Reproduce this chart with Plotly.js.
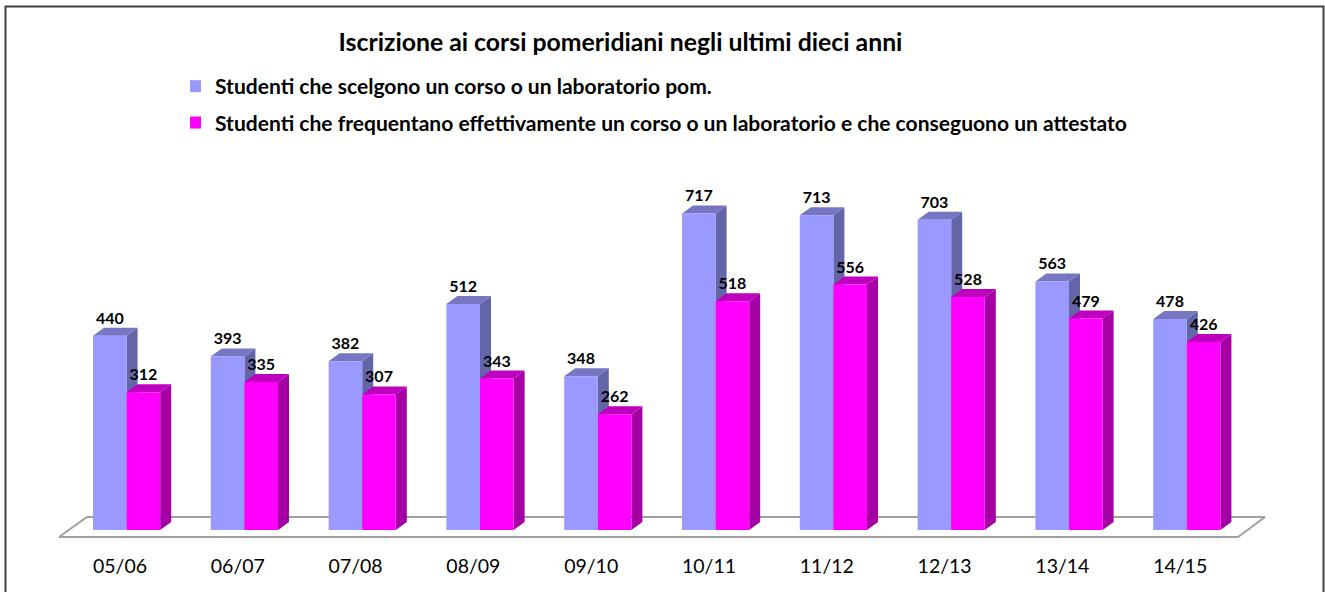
<!DOCTYPE html>
<html>
<head>
<meta charset="utf-8">
<script src="https://cdn.plot.ly/plotly-3.0.1.min.js"></script>
<style>html,body{margin:0;padding:0;background:#fff;overflow:hidden}#chart{width:1325px;height:592px}</style>
</head>
<body>
<div id="chart"></div>
<script>
const titleText = "Iscrizione ai corsi pomeridiani negli ultimi dieci anni";
const categories = ["05/06","06/07","07/08","08/09","09/10","10/11","11/12","12/13","13/14","14/15"];
const seriesAName = "Studenti che scelgono un corso o un laboratorio pom.";
const seriesBName = "Studenti che frequentano effettivamente un corso o un laboratorio e che conseguono un attestato";
const seriesA = [440,393,382,512,348,717,713,703,563,478];
const seriesB = [312,335,307,343,262,518,556,528,479,426];

const W = 1325, H = 592, plotH = 545;
const pxPerCat = 117.8, firstCatPx = 120;
const pxPerUnit = 0.4415, zeroPx = 530;
const xRange = [-firstCatPx/pxPerCat, (W-firstCatPx)/pxPerCat];
const yRange = [(zeroPx-plotH)/pxPerUnit, zeroPx/pxPerUnit];
const xOfPx = p => (p-firstCatPx)/pxPerCat;
const yOfPx = p => (zeroPx-p)/pxPerUnit;

const barW = 33.6/pxPerCat;
const offA = -27/pxPerCat;
const offB = offA + barW;
const dx = 11/pxPerCat, dy = 8/pxPerUnit;
const idx = categories.map((_,i)=>i);

function faces(vals, off, kind){
  const xs=[], ys=[];
  vals.forEach((v,i)=>{
    const l=i+off, r=l+barW;
    if(kind==="top"){
      xs.push(l,l+dx,r+dx,r,l,null); ys.push(v,v+dy,v+dy,v,v,null);
    } else {
      xs.push(r,r+dx,r+dx,r,r,null); ys.push(0,dy,v+dy,v,0,null);
    }
  });
  return {x:xs,y:ys};
}
function poly(f,color){
  return {type:"scatter",mode:"lines",x:f.x,y:f.y,fill:"toself",fillcolor:color,
    line:{width:0,color:color},hoverinfo:"skip",showlegend:false,xaxis:"x",yaxis:"y"};
}
const floor = {type:"scatter",mode:"lines",
  x:[xOfPx(59),xOfPx(87),xOfPx(1265),xOfPx(1238),xOfPx(59)],
  y:[yOfPx(537),yOfPx(517),yOfPx(517),yOfPx(537),yOfPx(537)],
  fill:"toself",fillcolor:"#ffffff",line:{color:"#a0a0a0",width:2},
  hoverinfo:"skip",showlegend:false,xaxis:"x",yaxis:"y"};

function bar(name,vals,off,color,group){
  return {type:"bar",name:name,x:idx,y:vals,width:barW,offset:off,
    marker:{color:color,line:{width:0}},legendgroup:group,xaxis:"x2",yaxis:"y2",
    hovertemplate:"%{y}<extra></extra>"};
}
function labels(vals,off){
  return {type:"scatter",mode:"text",x:idx.map(i=>i+off+barW/2),y:vals.map(v=>v+dy),
    text:vals.map(String),textposition:"top center",
    textfont:{family:"Lato, sans-serif",size:16,color:"#000",weight:700},
    hoverinfo:"skip",showlegend:false,xaxis:"x2",yaxis:"y2",cliponaxis:false};
}
const data = [
  floor,
  poly(faces(seriesA,offA,"side"),"#6464A8"),
  poly(faces(seriesA,offA,"top"),"#7676C2"),
  poly(faces(seriesB,offB,"side"),"#A400A4"),
  poly(faces(seriesB,offB,"top"),"#BE00BE"),
  bar(seriesAName,seriesA,offA,"#9999FF","a"),
  bar(seriesBName,seriesB,offB,"#FF00FF","b"),
  labels(seriesA,offA),
  labels(seriesB,offB)
];
const layout = {
  width:W,height:H,autosize:false,
  margin:{l:0,r:0,t:0,b:H-plotH,pad:0},
  paper_bgcolor:"#fff",plot_bgcolor:"rgba(0,0,0,0)",
  barmode:"overlay",hovermode:"closest",
  title:{text:titleText,x:620.5/W,xanchor:"center",y:1-42/H,yanchor:"middle",
    font:{family:"Lato, sans-serif",size:24.8,color:"#000",weight:700}},
  xaxis:{type:"linear",range:xRange,tickmode:"array",tickvals:idx,ticktext:categories,
    showgrid:false,zeroline:false,showline:false,ticks:"",fixedrange:true,ticklabelstandoff:7,
    tickfont:{family:"Lato, sans-serif",size:19.5,color:"#000"}},
  yaxis:{range:yRange,visible:false,showgrid:false,zeroline:false,fixedrange:true},
  xaxis2:{type:"linear",overlaying:"x",range:xRange,visible:false,fixedrange:true,anchor:"y2"},
  yaxis2:{overlaying:"y",range:yRange,visible:false,fixedrange:true,anchor:"x2"},
  showlegend:true,
  legend:{x:190/W,xanchor:"left",y:1-66/plotH,yanchor:"top",traceorder:"grouped",tracegroupgap:6,
    indentation:-15,bgcolor:"rgba(0,0,0,0)",borderwidth:0,
    font:{family:"Lato, sans-serif",size:21.05,color:"#000",weight:700}},
  shapes:[{type:"rect",xref:"paper",yref:"paper",x0:5.5/W,x1:1323.5/W,y0:-0.2,y1:1-6.5/plotH,
    line:{color:"#404040",width:2},fillcolor:"rgba(0,0,0,0)",layer:"above"}]
};
Plotly.newPlot("chart",data,layout,{displayModeBar:false,responsive:false});
</script>
</body>
</html>
